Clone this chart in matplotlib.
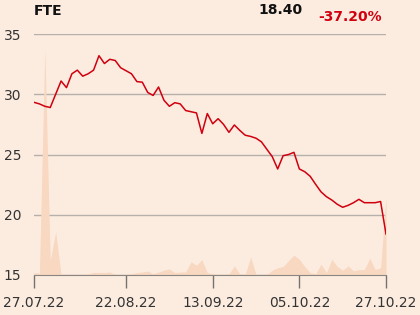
import numpy as np
import matplotlib
matplotlib.use('Agg')
import matplotlib.pyplot as plt

# closing prices (one per trading day)
price = [29.33, 29.2, 29.0, 28.9, 30.0, 31.1, 30.55, 31.7, 32.0, 31.5,
         31.7, 32.0, 33.2, 32.55, 32.9, 32.8, 32.2, 31.95, 31.7, 31.05,
         31.0, 30.15, 29.9, 30.6, 29.5, 29.0, 29.3, 29.2, 28.65, 28.55,
         28.45, 26.75, 28.4, 27.55, 27.97, 27.5, 26.84, 27.45, 27.0, 26.6,
         26.5, 26.35, 26.05, 25.43, 24.82, 23.8, 24.9, 25.0, 25.18, 23.8,
         23.57, 23.19, 22.53, 21.9, 21.5, 21.22, 20.87, 20.62, 20.78, 21.0,
         21.28, 21.0, 21.0, 21.0, 21.1, 18.40]

# volume band, drawn in price-axis units above the 15 baseline
volume = [15.2, 15.15, 33.8, 16.2, 18.6, 15.05, 15.05, 15.05, 15.05, 15.05,
          15.1, 15.22, 15.2, 15.2, 15.25, 15.05, 15.05, 15.05, 15.1, 15.2,
          15.25, 15.33, 15.1, 15.25, 15.4, 15.5, 15.2, 15.25, 15.25, 16.1,
          15.8, 16.27, 15.2, 15.1, 15.05, 15.05, 15.1, 15.75, 15.1, 15.05,
          16.5, 15.05, 15.05, 15.05, 15.4, 15.6, 15.7, 16.2, 16.65, 16.3,
          15.7, 15.2, 15.1, 15.9, 15.2, 16.3, 15.7, 15.4, 15.75, 15.35,
          15.45, 15.45, 16.4, 15.45, 15.6, 21.5]

tick_idx = [0, 17, 33, 49, 65]
tick_labels = ['27.07.22', '22.08.22', '13.09.22', '05.10.22', '27.10.22']
y_ticks = [15, 20, 25, 30, 35]

bg = '#fcece0'
fig = plt.figure(figsize=(4.2, 3.15), dpi=100, facecolor=bg)
ax = fig.add_axes([34 / 420, 1 - 275 / 315, 352 / 420, 241 / 315])
ax.set_facecolor(bg)

x = np.arange(len(price))
ax.fill_between(x, 15, volume, color='#f8d8c1', linewidth=0, zorder=1)
ax.plot(x, price, color='#d0000f', linewidth=1.1, zorder=3)

ax.set_xlim(0, len(price) - 1)
ax.set_ylim(15, 35)
ax.set_yticks(y_ticks)
ax.set_xticks(tick_idx)
ax.set_xticklabels(tick_labels)
ax.grid(axis='y', color='#b5b0ab', linewidth=1, zorder=0)
ax.set_axisbelow(True)

for s in ['top', 'right', 'left']:
    ax.spines[s].set_visible(False)
ax.spines['bottom'].set_color('#8a8581')
ax.tick_params(axis='y', length=0, pad=9, labelsize=10, labelcolor='#333333')
ax.tick_params(axis='x', length=9, width=1, color='#77726e', pad=6,
               labelsize=10, labelcolor='#333333')

fig.text(34 / 420, 1 - 11 / 315, 'FTE', fontsize=10, fontweight='bold',
         ha='left', va='center', color='#111111')
fig.text(303 / 420, 1 - 10 / 315, '18.40', fontsize=10, fontweight='bold',
         ha='right', va='center', color='#111111')
fig.text(382 / 420, 1 - 17 / 315, '-37.20%', fontsize=10, fontweight='bold',
         ha='right', va='center', color='#d0000f')

fig.savefig('out.png', dpi=100, facecolor=bg)
